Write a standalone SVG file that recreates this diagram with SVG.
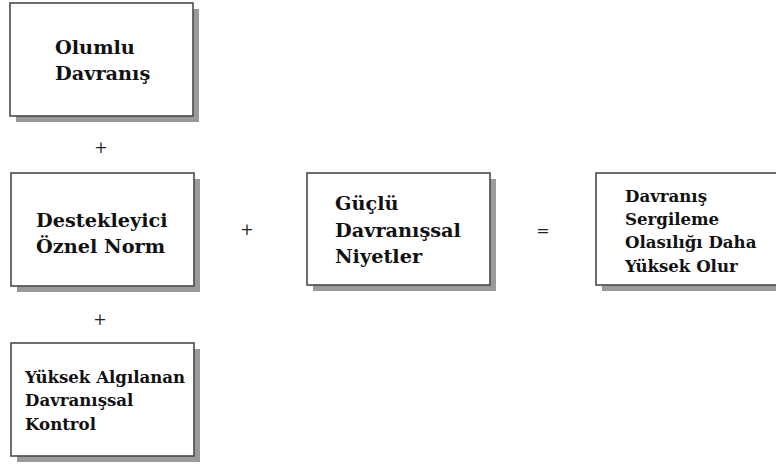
<svg xmlns="http://www.w3.org/2000/svg" width="776" height="466" viewBox="0 0 776 466">
<defs>
<style>
.shadow{fill:#9a9a9a;}
.box{fill:#ffffff;stroke:#4a4a4a;stroke-width:1.6;}
.t{font-family:"DejaVu Serif","Liberation Serif",serif;font-weight:bold;fill:#111111;}
.big{font-size:19.3px;}
.small{font-size:16.6px;}
.op{font-family:"DejaVu Serif","Liberation Serif",serif;font-size:16px;fill:#222222;text-anchor:middle;}
</style>
</defs>
<rect width="776" height="466" fill="#ffffff"/>
<g id="node-olumlu">
<rect class="shadow" x="16" y="9" width="183" height="113"/>
<rect class="box" x="10" y="3" width="183" height="113"/>
<text class="t big" x="55" y="54">Olumlu</text>
<text class="t big" x="55" y="80">Davranış</text>
</g>
<g id="node-destekleyici">
<rect class="shadow" x="17" y="179" width="183" height="113"/>
<rect class="box" x="11" y="173" width="183" height="113"/>
<text class="t big" x="36" y="227">Destekleyici</text>
<text class="t big" x="36" y="253">Öznel Norm</text>
</g>
<g id="node-niyetler">
<rect class="shadow" x="313" y="179" width="183" height="112"/>
<rect class="box" x="307" y="173" width="183" height="112"/>
<text class="t big" x="335" y="210">Güçlü</text>
<text class="t big" x="335" y="237">Davranışsal</text>
<text class="t big" x="335" y="263">Niyetler</text>
</g>
<g id="node-sonuc">
<rect class="shadow" x="602" y="179" width="190" height="112"/>
<rect class="box" x="596" y="173" width="190" height="112"/>
<text class="t small" x="625" y="202">Davranış</text>
<text class="t small" x="625" y="225">Sergileme</text>
<text class="t small" x="625" y="248">Olasılığı Daha</text>
<text class="t small" x="625" y="272">Yüksek Olur</text>
</g>
<g id="node-kontrol">
<rect class="shadow" x="17" y="349" width="183" height="113"/>
<rect class="box" x="11" y="343" width="183" height="113"/>
<text class="t small" x="25" y="383">Yüksek Algılanan</text>
<text class="t small" x="25" y="406">Davranışsal</text>
<text class="t small" x="25" y="430">Kontrol</text>
</g>
<g id="connectors">
<text class="op" x="101" y="153">+</text>
<text class="op" x="247" y="235">+</text>
<text class="op" x="543" y="236">=</text>
<text class="op" x="100" y="325">+</text>
</g>
</svg>
